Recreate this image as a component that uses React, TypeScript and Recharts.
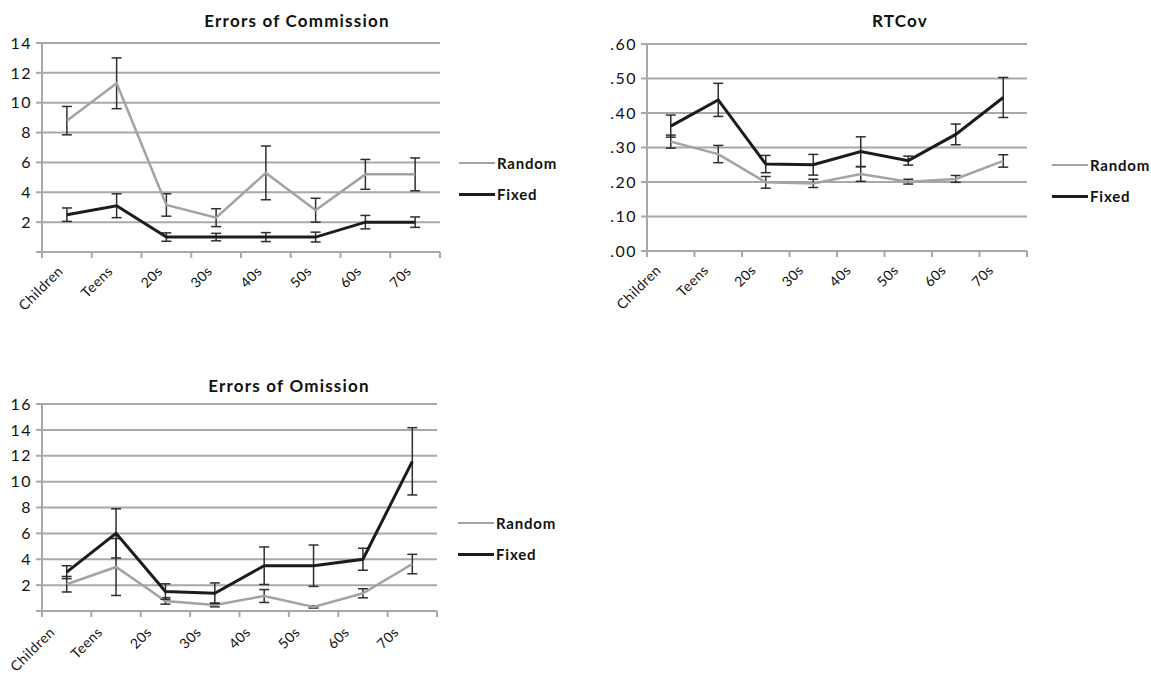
import { LineChart, Line, XAxis, YAxis, CartesianGrid, ErrorBar } from "recharts";

const categories = ["Children", "Teens", "20s", "30s", "40s", "50s", "60s", "70s"];
const seriesNames = ["Random", "Fixed"];

const commissionRandom = [8.8, 11.3, 3.15, 2.3, 5.3, 2.8, 5.2, 5.2];
const commissionRandomErr = [0.95, 1.7, 0.75, 0.6, 1.8, 0.8, 1.0, 1.1];
const commissionFixed = [2.5, 3.1, 1.0, 1.0, 1.0, 1.0, 2.0, 2.0];
const commissionFixedErr = [0.45, 0.8, 0.28, 0.25, 0.3, 0.33, 0.45, 0.35];
const commissionTicks = [0, 2, 4, 6, 8, 10, 12, 14];

const rtcovRandom = [0.317, 0.281, 0.199, 0.196, 0.223, 0.201, 0.209, 0.261];
const rtcovRandomErr = [0.019, 0.025, 0.017, 0.012, 0.021, 0.007, 0.01, 0.018];
const rtcovFixed = [0.362, 0.438, 0.252, 0.25, 0.288, 0.262, 0.338, 0.445];
const rtcovFixedErr = [0.032, 0.048, 0.025, 0.03, 0.043, 0.013, 0.03, 0.058];
const rtcovTicks = [0, 0.1, 0.2, 0.3, 0.4, 0.5, 0.6];

const omissionRandom = [2.07, 3.4, 0.78, 0.47, 1.16, 0.31, 1.37, 3.63];
const omissionRandomErr = [0.6, 2.2, 0.25, 0.15, 0.5, 0.08, 0.35, 0.75];
const omissionFixed = [3.0, 6.0, 1.5, 1.37, 3.5, 3.5, 4.0, 11.57];
const omissionFixedErr = [0.5, 1.9, 0.6, 0.8, 1.45, 1.6, 0.85, 2.6];
const omissionTicks = [0, 2, 4, 6, 8, 10, 12, 14, 16];

const FONT = "Lato, 'Open Sans', sans-serif";
const GRID = "#a8a8a8";
const RANDOM_COLOR = "#a3a3a3";
const FIXED_COLOR = "#1c1c1c";
const BAR_COLOR = "#2e2e2e";

const intFmt = (v: number) => (v === 0 ? "" : String(v));
const decFmt = (v: number) => v.toFixed(2).replace(/^0/, "");

const panels = [
  {
    title: "Errors of Commission",
    random: commissionRandom, randomErr: commissionRandomErr,
    fixed: commissionFixed, fixedErr: commissionFixedErr,
    ticks: commissionTicks, fmt: intFmt,
    left: 0, top: 0, width: 600, height: 330,
    marginTop: 43, marginRight: 160, yWidth: 42, xHeight: 78,
    titleX: 297, titleY: 20, legendX: 459, legendY: 163,
    labelDx: 22, labelDy: 20,
  },
  {
    title: "RTCov",
    random: rtcovRandom, randomErr: rtcovRandomErr,
    fixed: rtcovFixed, fixedErr: rtcovFixedErr,
    ticks: rtcovTicks, fmt: decFmt,
    left: 600, top: 0, width: 551, height: 330,
    marginTop: 44, marginRight: 124, yWidth: 47, xHeight: 79,
    titleX: 900, titleY: 20, legendX: 1052, legendY: 165,
    labelDx: 15, labelDy: 20,
  },
  {
    title: "Errors of Omission",
    random: omissionRandom, randomErr: omissionRandomErr,
    fixed: omissionFixed, fixedErr: omissionFixedErr,
    ticks: omissionTicks, fmt: intFmt,
    left: 0, top: 360, width: 600, height: 316,
    marginTop: 44, marginRight: 163, yWidth: 42, xHeight: 65,
    titleX: 289, titleY: 385, legendX: 458, legendY: 523,
    labelDx: 12, labelDy: 22,
  },
];

// rotated labels are pushed right so the first one is not cut at the panel edge
function CatTick(props: any) {
  const { x, y, payload, dx0, dy0 } = props;
  const label = categories[payload.value];
  if (!label) return null;
  const minEnd = label.length * 7 * 0.707 + 16;
  const ex = Math.max(x + dx0, minEnd);
  return (
    <g transform={`translate(${ex},${y - 8 + dy0})`}>
      <text
        transform="rotate(-45)"
        textAnchor="end"
        fontSize={14}
        fill="#111"
        fontFamily={FONT}
        letterSpacing={0.5}
      >
        {label}
      </text>
    </g>
  );
}

function Panel({ p }: { p: (typeof panels)[number] }) {
  const data = categories.map((c, i) => ({
    x: i + 0.5,
    cat: c,
    random: p.random[i],
    randomErr: p.randomErr[i],
    fixed: p.fixed[i],
    fixedErr: p.fixedErr[i],
  }));
  const xTicks = categories.map((_, i) => i).concat(categories.length);
  const yMax = p.ticks[p.ticks.length - 1];
  return (
    <div style={{ position: "absolute", left: p.left, top: p.top }}>
      <LineChart
        width={p.width}
        height={p.height}
        data={data}
        margin={{ top: p.marginTop, right: p.marginRight, left: 0, bottom: 0 }}
      >
        <CartesianGrid vertical={false} stroke={GRID} strokeWidth={2} />
        <XAxis
          type="number"
          dataKey="x"
          domain={[0, categories.length]}
          ticks={xTicks}
          interval={0}
          height={p.xHeight}
          stroke={GRID}
          strokeWidth={2}
          tickSize={6}
          tick={<CatTick dx0={p.labelDx} dy0={p.labelDy} />}
        />
        <YAxis
          type="number"
          domain={[0, yMax]}
          ticks={p.ticks}
          interval={0}
          width={p.yWidth}
          stroke={GRID}
          strokeWidth={2}
          tickSize={6}
          tickMargin={4}
          tickFormatter={p.fmt}
          tick={{ fontSize: 16, fill: "#111", fontFamily: FONT, letterSpacing: 1.5 }}
        />
        <Line
          type="linear"
          dataKey="random"
          stroke={RANDOM_COLOR}
          strokeWidth={2.5}
          dot={false}
          isAnimationActive={false}
        >
          <ErrorBar dataKey="randomErr" direction="y" width={5} stroke={BAR_COLOR} strokeWidth={1.5} isAnimationActive={false} />
        </Line>
        <Line
          type="linear"
          dataKey="fixed"
          stroke={FIXED_COLOR}
          strokeWidth={3}
          dot={false}
          isAnimationActive={false}
        >
          <ErrorBar dataKey="fixedErr" direction="y" width={5} stroke={BAR_COLOR} strokeWidth={1.5} isAnimationActive={false} />
        </Line>
      </LineChart>
    </div>
  );
}

function Legend2({ x, y }: { x: number; y: number }) {
  return (
    <>
      {seriesNames.map((name, i) => (
        <div
          key={name}
          style={{
            position: "absolute",
            left: x,
            top: y + i * 31,
            transform: "translateY(-50%)",
            display: "flex",
            alignItems: "center",
            fontFamily: FONT,
            fontSize: 15,
            fontWeight: 700,
            letterSpacing: 0.8,
            color: "#111",
            whiteSpace: "nowrap",
          }}
        >
          <span
            style={{
              display: "inline-block",
              width: 36,
              height: i === 0 ? 2.5 : 3,
              background: i === 0 ? RANDOM_COLOR : FIXED_COLOR,
              marginRight: 2,
            }}
          />
          {name}
        </div>
      ))}
    </>
  );
}

export default function App() {
  return (
    <div
      style={{
        position: "absolute",
        left: 0,
        top: 0,
        width: 1151,
        height: 676,
        background: "#fff",
        overflow: "hidden",
      }}
    >
      {panels.map((p) => (
        <Panel key={p.title} p={p} />
      ))}
      {panels.map((p) => (
        <div
          key={p.title + "-t"}
          style={{
            position: "absolute",
            left: p.titleX,
            top: p.titleY,
            transform: "translate(-50%, -50%)",
            fontFamily: FONT,
            fontSize: 17,
            fontWeight: 700,
            letterSpacing: 1.2,
            color: "#111",
            whiteSpace: "nowrap",
          }}
        >
          {p.title}
        </div>
      ))}
      {panels.map((p) => (
        <Legend2 key={p.title + "-l"} x={p.legendX} y={p.legendY} />
      ))}
    </div>
  );
}
